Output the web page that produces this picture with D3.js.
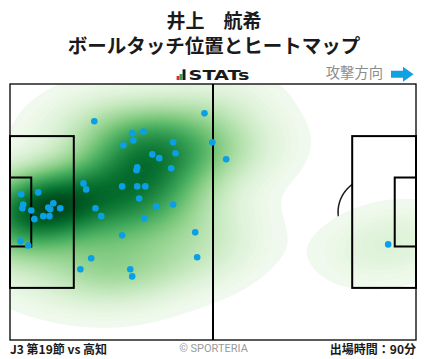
<!DOCTYPE html>
<html><head><meta charset="utf-8">
<script src="https://cdn.jsdelivr.net/npm/d3@7"></script>
<style>body{margin:0;background:#fff}svg{display:block}</style>
</head><body>
<svg id="c" width="428" height="359"></svg>
<script>
// ---- data (pitch coordinates in metres, 105 x 68, attack to the right) ----
const playerName = "井上　航希";
const chartTitle = "ボールタッチ位置とヒートマップ";
const brandLabel = "STATs";
const directionLabel = "攻撃方向";
const matchLabel = "J3 第19節 vs 高知";
const creditLabel = "© SPORTERIA";
const minutesLabel = "出場時間：90分";

const touchX = [21.8, 50.3, 31.6, 34.5, 31.9, 29.3, 42.2, 52.3, 36.8, 38.6, 42.8, 32.9,
  32.7, 41.7, 55.9, 19.0, 19.7, 29.0, 32.9, 35.0, 33.4, 37.8, 42.2, 22.1,
  23.6, 34.7, 29.0, 21.0, 18.2, 31.1, 31.6, 47.9, 48.4, 2.9, 7.3, 3.4,
  3.2, 5.5, 11.2, 9.9, 10.4, 13.0, 6.3, 8.6, 10.2, 2.7, 4.7, 97.8];
const touchY = [9.9, 7.8, 13.1, 12.6, 15.0, 16.3, 15.5, 15.5, 18.7, 19.7, 18.4, 22.1,
  22.9, 22.4, 20.0, 26.4, 28.0, 27.2, 27.2, 27.2, 30.4, 32.5, 32.0, 33.0,
  35.1, 35.7, 40.2, 46.3, 49.2, 49.2, 51.1, 39.4, 46.0, 29.3, 28.8, 32.0,
  33.0, 33.6, 31.7, 32.8, 33.3, 33.0, 35.9, 35.1, 35.1, 41.8, 42.9, 42.6];

const pitchLength = 105, pitchWidth = 68;

const svg = d3.select("#c");
const x = d3.scaleLinear().domain([0, pitchLength]).range([10, 416]);
const y = d3.scaleLinear().domain([0, pitchWidth]).range([84, 340]);

const jp = "'Noto Sans CJK JP','Noto Sans',sans-serif";

// ---- titles ----
svg.append("text").attr("x", 214).attr("y", 27.5).attr("text-anchor", "middle")
  .attr("font-family", jp).attr("font-weight", 700).attr("font-size", 19).attr("fill", "#1a1a1a")
  .text(playerName);
svg.append("text").attr("x", 214).attr("y", 53).attr("text-anchor", "middle")
  .attr("font-family", jp).attr("font-weight", 700).attr("font-size", 19.5).attr("fill", "#1a1a1a")
  .text(chartTitle);

// brand logo
const logo = svg.append("g");
[[176.6, 76, "#e8262b"], [179.5, 74, "#2eaa4a"], [182.6, 69.3, "#1a1a1a"]].forEach(d => {
  logo.append("rect").attr("x", d[0]).attr("y", d[1]).attr("width", 2.9).attr("height", 80 - d[1]).attr("fill", d[2]);
});
svg.append("text").attr("x", 188.5).attr("y", 80).attr("font-family", "'DejaVu Sans',sans-serif")
  .attr("font-weight", 700).attr("font-size", 14.5).attr("fill", "#1a1a1a")
  .attr("textLength", 61).attr("lengthAdjust", "spacingAndGlyphs").text(brandLabel);

// attack direction
svg.append("text").attr("x", 383).attr("y", 77.5).attr("text-anchor", "end")
  .attr("font-family", jp).attr("font-size", 14.3).attr("fill", "#8c8c8c").text(directionLabel);
svg.append("path").attr("d", "M391,70.8 L403,70.8 L403,66.8 L413.5,74.3 L403,81.8 L403,77.8 L391,77.8 Z")
  .attr("fill", "#12a0e3");

// ---- pitch ----
svg.append("rect").attr("x", x(0)).attr("y", y(0)).attr("width", x(pitchLength) - x(0))
  .attr("height", y(pitchWidth) - y(0)).attr("fill", "#fff");

const under = svg.append("g").attr("fill", "none").attr("stroke", "#1a1a1a").attr("stroke-width", 1.5);
const rx = x(9.15) - x(0), ry = y(9.15) - y(0);
under.append("ellipse").attr("cx", x(pitchLength / 2)).attr("cy", y(pitchWidth / 2)).attr("rx", rx).attr("ry", ry);
function penArc(spot, sign) {
  const bx = sign > 0 ? 16.5 : pitchLength - 16.5;
  const dx = Math.abs(bx - spot);
  const ang = Math.acos(dx / 9.15);
  const pts = d3.range(-ang, ang + 1e-9, ang / 30).map(a =>
    [x(spot + sign * 9.15 * Math.cos(a)), y(pitchWidth / 2 + 9.15 * Math.sin(a))]);
  under.append("path").attr("d", d3.line()(pts));
}
penArc(11, 1);
penArc(pitchLength - 11, -1);

// ---- heatmap (gaussian KDE, Scott bandwidth, linear levels) ----
const P = touchX.map((v, i) => [x(v), y(touchY[i])]);
const n = P.length;
const mx = d3.mean(P, d => d[0]), my = d3.mean(P, d => d[1]);
let sxx = 0, syy = 0, sxy = 0;
P.forEach(d => { sxx += (d[0] - mx) ** 2; syy += (d[1] - my) ** 2; sxy += (d[0] - mx) * (d[1] - my); });
sxx /= (n - 1); syy /= (n - 1); sxy /= (n - 1);
const fac = Math.pow(n, -1 / 6) * 1.05;
const kxx = sxx * fac * fac, kyy = syy * fac * fac, kxy = sxy * fac * fac;
const det = kxx * kyy - kxy * kxy;
const ixx = kyy / det, iyy = kxx / det, ixy = -kxy / det;
const step = 1.5;
const bwx = Math.sqrt(kxx), bwy = Math.sqrt(kyy);
const gx0 = d3.min(P, d => d[0]) - 4 * bwx, gx1 = d3.max(P, d => d[0]) + 4 * bwx;
const gy0 = d3.min(P, d => d[1]) - 4 * bwy, gy1 = d3.max(P, d => d[1]) + 4 * bwy;
const nx = Math.ceil((gx1 - gx0) / step) + 1, ny = Math.ceil((gy1 - gy0) / step) + 1;
const vals = new Float64Array(nx * ny);
for (let j = 0; j < ny; j++) {
  const gy = gy0 + j * step;
  for (let i = 0; i < nx; i++) {
    const gx = gx0 + i * step;
    let s = 0;
    for (let k = 0; k < n; k++) {
      const dx = gx - P[k][0], dy = gy - P[k][1];
      s += Math.exp(-0.5 * (ixx * dx * dx + 2 * ixy * dx * dy + iyy * dy * dy));
    }
    vals[j * nx + i] = s;
  }
}
const hi = d3.max(vals);
const nLevels = 100;
const levelStep = hi / nLevels;
const levels = d3.range(1, nLevels + 1).map(i => i * levelStep);   // lowest band left unfilled
const tone = t => d3.interpolateGreens(Math.pow(t, 0.72));

svg.append("clipPath").attr("id", "pclip").append("rect")
  .attr("x", x(0)).attr("y", y(0)).attr("width", x(pitchLength) - x(0)).attr("height", y(pitchWidth) - y(0));
const heat = svg.append("g").attr("clip-path", "url(#pclip)");
const conts = d3.contours().size([nx, ny]).thresholds(levels.slice(0, -1))(vals);
const gpath = d3.geoPath(d3.geoTransform({
  point(px, py) { this.stream.point(gx0 + (px - 0.5) * step, gy0 + (py - 0.5) * step); }
}));
conts.forEach((c, i) => {
  const mid = (levels[i] + levels[i + 1]) / 2;
  const col = tone(mid / hi);
  heat.append("path").attr("d", gpath(c)).attr("fill", col).attr("stroke", col).attr("stroke-width", 0.3);
});

// ---- pitch lines over heatmap ----
const lines = svg.append("g").attr("fill", "none").attr("stroke", "#000").attr("stroke-width", 2);
const boxes = [[0, 16.5, 13.84, 54.16], [0, 5.5, 24.84, 43.16],
  [pitchLength - 16.5, pitchLength, 13.84, 54.16], [pitchLength - 5.5, pitchLength, 24.84, 43.16]];
boxes.forEach(b => {
  lines.append("rect").attr("x", x(b[0])).attr("y", y(b[2]))
    .attr("width", x(b[1]) - x(b[0])).attr("height", y(b[3]) - y(b[2]));
});
lines.append("line").attr("x1", x(pitchLength / 2)).attr("x2", x(pitchLength / 2))
  .attr("y1", y(0)).attr("y2", y(pitchWidth));
svg.append("rect").attr("x", x(0)).attr("y", y(0)).attr("width", x(pitchLength) - x(0))
  .attr("height", y(pitchWidth) - y(0)).attr("fill", "none").attr("stroke", "#000").attr("stroke-width", 1.3);

// ---- touches ----
svg.append("g").selectAll("circle").data(P).join("circle")
  .attr("cx", d => d[0]).attr("cy", d => d[1]).attr("r", 3.3).attr("fill", "#0aa0e6");

// ---- footer ----
svg.append("text").attr("x", 10).attr("y", 354).attr("font-family", jp).attr("font-weight", 700)
  .attr("font-size", 12).attr("fill", "#1a1a1a").text(matchLabel);
svg.append("text").attr("x", 213.5).attr("y", 352).attr("text-anchor", "middle").attr("font-family", "'Roboto','Noto Sans',sans-serif")
  .attr("font-size", 11).attr("fill", "#9a9a9a").text(creditLabel);
svg.append("text").attr("x", 416).attr("y", 354).attr("text-anchor", "end").attr("font-family", jp).attr("font-weight", 700)
  .attr("font-size", 12).attr("fill", "#1a1a1a").text(minutesLabel);
</script>
</body></html>
